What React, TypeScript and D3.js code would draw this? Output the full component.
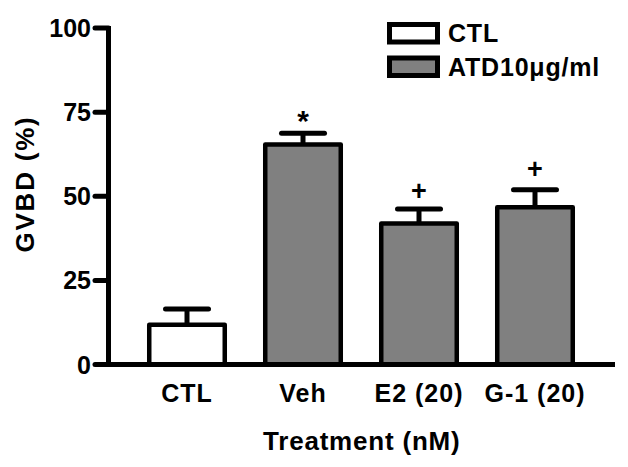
import React from "react";
import * as d3 from "d3";

const categories = ["CTL", "Veh", "E2 (20)", "G-1 (20)"];
const means = [11.8, 65.4, 41.9, 46.7];
const errors = [4.7, 3.3, 4.3, 5.2];
const groups = ["CTL", "ATD", "ATD", "ATD"];
const annotations = ["", "*", "+", "+"];
const annotationLevels = [0, 72.5, 51.6, 58.1];
const yTicks = [0, 25, 50, 75, 100];
const legendLabels = ["CTL", "ATD10μg/ml"];
const legendGroups = ["CTL", "ATD"];

const W = 628;
const H = 467;
const FONT = "'Liberation Sans', Arial, Helvetica, sans-serif";
const fillFor = (g: string) => (g === "CTL" ? "#ffffff" : "#808080");

export default function App() {
  const x0 = 108.5;
  const xEnd = 615;
  const y = d3.scaleLinear().domain([0, 100]).range([364.5, 28]);
  const x = d3
    .scaleBand<string>()
    .domain(categories)
    .range([129, 593])
    .paddingInner(0.349)
    .paddingOuter(0.1745);
  const bw = x.bandwidth();
  const capW = 43;
  const sw = 4.5;

  return (
    <svg
      width={W}
      height={H}
      style={{ position: "absolute", left: 0, top: 0, background: "#fff" }}
      fontFamily={FONT}
      fontWeight="bold"
    >
      <rect width={W} height={H} fill="#fff" />
      {/* bars */}
      {categories.map((c, i) => {
        const cx = (x(c) as number) + bw / 2;
        const top = y(means[i]);
        const et = y(means[i] + errors[i]);
        return (
          <g key={c}>
            <line x1={cx} x2={cx} y1={top} y2={et} stroke="#000" strokeWidth={5} />
            <line
              x1={cx - capW / 2}
              x2={cx + capW / 2}
              y1={et}
              y2={et}
              stroke="#000"
              strokeWidth={5}
              strokeLinecap="round"
            />
            <rect
              x={x(c)}
              y={top}
              width={bw}
              height={y(0) - top}
              fill={fillFor(groups[i])}
              stroke="#000"
              strokeWidth={sw}
              strokeLinejoin="round"
            />
            {annotations[i] && (
              <text
                x={cx}
                y={y(annotationLevels[i])}
                textAnchor="middle"
                dominantBaseline="central"
                fontSize={annotations[i] === "*" ? 30 : 27}
              >
                {annotations[i]}
              </text>
            )}
          </g>
        );
      })}
      {/* y axis */}
      <line x1={x0} x2={x0} y1={y(100) - 2} y2={y(0)} stroke="#000" strokeWidth={5} />
      {yTicks.map((t) => (
        <g key={t}>
          <line x1={95} x2={x0} y1={y(t)} y2={y(t)} stroke="#000" strokeWidth={5} strokeLinecap="round" />
          <text x={91} y={y(t)} dy="0.36em" textAnchor="end" fontSize={25}>
            {t}
          </text>
        </g>
      ))}
      {/* x axis */}
      <line x1={95} x2={xEnd} y1={y(0)} y2={y(0)} stroke="#000" strokeWidth={5} />
      {categories.map((c) => (
        <text
          key={c}
          x={(x(c) as number) + bw / 2}
          y={402}
          textAnchor="middle"
          fontSize={25}
          letterSpacing={1}
        >
          {c}
        </text>
      ))}
      <text x={(x0 + xEnd) / 2} y={450} textAnchor="middle" fontSize={26} letterSpacing={0.8}>
        Treatment (nM)
      </text>
      <text
        transform="translate(34,184) rotate(-90)"
        textAnchor="middle"
        fontSize={26}
        letterSpacing={1.8}
      >
        GVBD (%)
      </text>
      {/* legend */}
      {legendLabels.map((l, i) => (
        <g key={l} transform={`translate(0,${i * 33.5})`}>
          <rect
            x={389.5}
            y={24.5}
            width={48}
            height={17.5}
            fill={fillFor(legendGroups[i])}
            stroke="#000"
            strokeWidth={5}
          />
          <text x={448} y={42} fontSize={25} letterSpacing={0.8}>
            {l}
          </text>
        </g>
      ))}
    </svg>
  );
}
